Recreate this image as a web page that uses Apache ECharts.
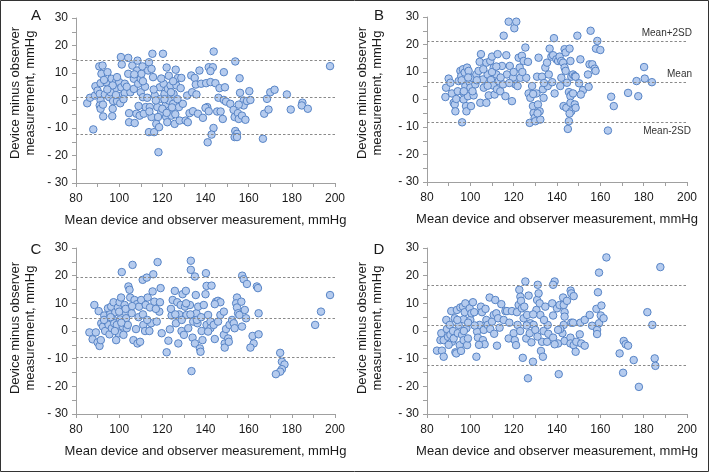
<!DOCTYPE html>
<html><head><meta charset="utf-8">
<script src="https://cdn.jsdelivr.net/npm/echarts@6/dist/echarts.min.js"></script>
<style>html,body{margin:0;padding:0;background:#fff}#c{width:709px;height:472px}</style>
</head><body><div id="c"></div>
<script>
const panelLetters = ['A', 'B', 'C', 'D'];
const xTitle = 'Mean device and observer measurement, mmHg';
const yTitle = 'Device minus observer\nmeasurement, mmHg';
const limitNames = ['Mean+2SD', 'Mean', 'Mean-2SD'];

// [upper (mean+2SD), mean, lower (mean-2SD)]
const limitsA = [14.8, 1.1, -12.4];
const limitsB = [21.1, 6.3, -8.4];
const limitsC = [19.3, 4.6, -9.6];
const limitsD = [16.6, 2.2, -12.3];

const pointsA = [[85.2,-1.0],[86.5,1.0],[88,-10.5],[89,5.2],[88.8,1.8],[90,3.6],[90.8,12.4],[92.3,12.7],[91.4,6.3],[91,2.4],[91.4,0],[91,-1.8],[91.4,-3],[91.8,9.7],[92.6,-5.8],[93.4,2.2],[94,6.7],[94.6,10.3],[95.4,1.2],[96.5,7.9],[96.8,-5.7],[97.2,-0.2],[98,4.2],[98.5,6.7],[99,-0.2],[100,6.7],[100.8,15.8],[101.2,13.1],[101,4.8],[101,1.8],[102.6,6.1],[102.6,2.7],[104.2,15.5],[104.2,9.7],[104.6,-4.6],[104.6,-7.9],[105.2,3.0],[106.1,12.7],[106.8,7.9],[106.8,4.2],[107.2,-8.2],[108,-4.8],[108.5,14.5],[108.3,10.9],[108.8,6.1],[109.5,-5.5],[110,7.9],[110,3],[110.3,9.7],[110.8,12.4],[111,1.2],[111.4,-4.8],[112.3,-2.4],[113,1],[113.4,10.9],[113.8,-11.5],[113.8,13.9],[114.2,-2.4],[115,-6],[115.4,17],[115.7,8.5],[116.2,-11.5],[116.5,1.8],[117.2,-8.5],[117.7,-2.4],[118.2,-18.8],[118.5,-9.7],[118.8,4.8],[119.2,0.6],[119.5,-4.2],[120.3,17],[120.6,6.1],[121,2.4],[121.5,-1.8],[121.8,-6],[122.3,-7.9],[122.6,4.2],[123,0],[123.4,-3.6],[123.8,5.5],[124.2,-5.5],[125,-1.2],[125.2,2.4],[125.7,-8.5],[126.2,11.2],[126.5,5.5],[127.2,8.2],[127.7,-2.4],[128,-7.3],[128.8,8.2],[129.5,-1.2],[130.8,-7.3],[131.5,1.8],[131.8,-7.9],[132.6,-4.6],[133.4,9.1],[133.8,3],[134.2,-3.9],[135,8.2],[135.5,5.8],[135.8,2.2],[136.5,-4.8],[137.2,10.9],[138,6.1],[138.8,-6.3],[140.3,6.3],[140.8,-2.4],[141,-15.2],[141.5,12.1],
[96,3],[97,5.5],[99,8.5],[98.5,2],[100.5,-1],[102,0.5],[103.5,5],[94.5,4],[93,7.5],[92.5,-1.5],[97,-3],[112,5],[114,-4],[116,4],[118,-6],[120,-3],[121,0.5],[122,-4.5],[124,3],[124.5,-2.5],[126,-5],[127,0.5],[128.5,4.5],[117,0],[119.5,8],[123,9],[125,7],[122,12],[115,11.5],[107,9.5],[109,-2],[111,7],
[143.8,17.8],[143.4,12.1],[142.3,10.7],[148.5,10.3],[153.8,14.2],[155.8,8.1],[142.3,6.7],[144.6,6.3],[146.5,4.5],[149,4.8],[146,1],[148.5,0.2],[149.5,-0.4],[151.5,-1.2],[140,-2.7],[141.5,-3.9],[145.4,-4],[147,-4],[148,-6.7],[153,-3.4],[153.5,-6],[155,-4.6],[155.4,-6.7],[156.9,-5.5],[158.5,-7],[156,2.8],[157.7,0],[157.7,-1.8],[155.4,-1.5],[159.2,-0.2],[160.3,3.4],[160.8,0.2],[143.7,-10],[142.8,-12.4],[153.8,-11.1],[154.6,-12.1],[153.5,-13.3],[154.6,-13.3],[166.6,-13.9],[167.2,-4.8],[169.2,-3.3],[168.5,0.6],[170,3],[172,3.9],[177.7,2.2],[179.5,-3.3],[184.9,-0.8],[184.6,-1.8],[187.4,-3],[197.7,12.5]];

const pointsB = [[88.5,0.9],[88.8,4.3],[90,7.6],[90.8,6.1],[91.5,2.2],[92.3,-1.2],[92.8,-1.8],[93.1,-4.3],[93.5,0.2],[94.2,3],[94.6,6.7],[95.4,10.4],[95.8,8.5],[96.2,-8.3],[96.6,11],[96.9,2.4],[96.9,0],[97.4,9.8],[97.7,4.9],[98,-2.4],[98.2,-4.3],[98.5,11.6],[98.9,1.2],[99.2,10.4],[99.7,6.3],[100,4.3],[100.3,-2.4],[100.8,7.9],[101.5,1.5],[102.3,5.5],[102.8,9.1],[103.8,10.4],[104.3,13.7],[104.6,-1.2],[104.9,16.5],[105.8,7.3],[106.2,4.3],[107.4,-1.2],[107.4,13.4],[108,9.1],[108.5,1.5],[109.2,14],[109.5,7.1],[110,15.6],[110.5,5.1],[110.8,11.6],[111.2,1.8],[112,9.1],[112.3,3.7],[112.6,16.5],[113.1,6.7],[113.8,3],[114.6,12.2],[115.1,5.5],[115.4,23.2],[116.2,1.2],[116.6,16.1],[116.9,9.1],[117.7,28.3],[118.2,12.2],[119.2,-0.6],[119.7,7.9],[120.3,25.9],[121.2,28.3],[120.8,5.5],[121.8,4.9],[122.3,15.2],[122.8,11.6],[123.1,7.9],[123.8,15.9],[124.6,14],[125.4,18.9],[125.8,7.9],[126.6,13.7],[126.9,2.2],[127.4,-8.5],[127.7,0.6],[128.5,4.9],[128.9,-2.4],[129.2,-4.9],[129.7,-6.7],[130,-7.9],[130.5,2.2],[130.8,8.3],[131.2,-1.8],[131.5,15.2],[132,-4.3],[132.3,-7.3],[133.1,8.3],[133.5,3.7],[133.8,0.6],[134.6,11.6],[135.4,13.4],[135.7,4.9],[136.2,9.1],[136.6,18.5],
[96,7],[97,3],[99,8],[101,3],[103,7],[106,11],[108,5],[110,10],[112,12],[114,8],[118,6],[120,10],[124,10],[129,2],[131,-5],[134,6],
[138.6,22.3],[137.4,15.6],[138.2,16.1],[139.7,14.6],[140.5,14],[141.2,15.6],[142,14],[142.8,13.4],[143.5,18.3],[144,17.1],[145.8,18.5],[146.2,14],[143.5,11.6],[144,10.4],[138.9,2.2],[137.8,6.3],[141.5,4.9],[142,7.9],[144.6,6.1],[146.6,8.3],[147.4,9.1],[148.2,8.5],[148.6,8.3],[150.2,5.9],[150.8,14.6],[149.4,23.2],[152,3.4],[151,1.8],[154.3,9.1],[155,12.8],[156.3,12.8],[154.6,4.6],[157.4,11.2],[157.8,10.4],[155.5,25],[158.6,21.3],[158,18.5],[160,18],[145.5,2.7],[146.6,1.8],[146.2,1.2],[147.4,2.2],[143,-2.4],[144.3,-3],[146.2,-1.2],[148.2,-1.8],[146.6,-4.3],[145.8,-5.1],[148.6,-3],[145.5,-7.9],[145,-10.7],[163.5,-11.3],[165,1],[166.2,-2.4],[172.8,2.4],[177.5,1.2],[176.7,6.7],[180.2,11.8],[180.5,7.6],[183.8,6.3]];

const pointsC = [[86.2,-0.5],[87.7,-3],[88.5,9.4],[89.2,-0.5],[90,-4.1],[90.5,7.2],[90.9,-5.4],[91.5,-3.3],[91.7,2.8],[92.5,1.6],[93.1,5.6],[93.5,0],[94.3,3.4],[94.8,8.2],[95.1,2.2],[95.5,-1.2],[95.8,6],[96.3,8.8],[96.6,1],[97.1,4.2],[97.4,10.4],[97.7,2.8],[98.2,6.8],[98.6,-3.3],[98.9,2.2],[99.4,8.5],[99.7,-0.8],[100.2,10.4],[100.5,4.2],[100.9,12.1],[101.2,21.3],[101.7,1.6],[102,-1.4],[102.5,9.4],[102.8,6.8],[103.2,4.6],[103.5,1],[104,2.2],[104.3,16.1],[104.8,14.9],[105.1,12.1],[105.8,6.4],[106.2,23.9],[106.6,-3.3],[107.1,11.2],[107.8,0.7],[108.2,9.7],[108.5,-4.5],[109.2,8.8],[109.7,-3.9],[110.2,11.2],[110.9,18.5],[111.2,2.2],[112,0],[112.3,9.4],[112.8,19.3],[113.2,12.1],[114,0],[114.3,8.5],[114.8,2.8],[115.5,14.3],[115.8,20.5],[116.3,10.6],[117.4,3.4],[117.8,24.9],[118.6,7],[118.9,10.4],[119.2,15.5],[119.7,-0.8],[122,-7.7],[122.8,-3.5],[123.5,0.6],[124.3,5.6],[124.8,11.2],[125.8,14.5],[126.3,2.8],[126.9,10.4],[127.4,-4.5],[127.8,6],[128.5,9.4],[128.9,0],[129.4,13.3],[130,-1.4],[130.5,8.8],[130.9,14.5],[131.2,5.8],[132,1],[132.8,9.4],[133.2,25.4],[133.2,22.1],[133.5,-14.5],[134,-2.4],[134.3,3.4],[135.1,19.7],[135.1,-4.5],[135.5,13],[135.8,6.4],[136.3,2.8],[136.6,8.8],[137.4,-6.3],[137.7,-7.5],[138.2,0],[138.6,-3.3],[139.2,9.4],[140.2,20.9],[140.5,16.3],[140.5,2.2],
[93,4],[96,5],[98,0],[100,7],[101,3],[103,8],[106,9],[109,5],[111,6],[113,4],[117,8],[124,8],[126,6],[129,4],[131,10],[133,6],[136,4],[138,5],
[142.8,16.4],[140,13.3],[141.2,5.8],[142.3,3.4],[142.3,1],[143.8,2.2],[141.2,-0.2],[144.3,-2.9],[144.9,10.6],[145.8,10.9],[146.9,10.4],[144.3,9.7],[145.8,3.4],[146.9,5.8],[148.5,7],[148.5,-1.4],[149.5,0.7],[148.9,-4.5],[148.9,-6],[150.5,-2.7],[150.8,-3.9],[151.1,2.2],[152.3,4],[153.1,2.8],[153.5,1],[154.6,12.1],[154.2,10],[154.6,8.5],[155.1,6.4],[155.7,5.8],[156.6,10.6],[157,20],[157.7,18.7],[158.2,7.6],[158.8,4.6],[156.9,1.6],[159.2,17],[163.8,16.1],[164.3,15.5],[164.6,6.4],[161.8,-1.8],[164.6,-1.2],[162.3,-4.5],[160.8,-6],[174.6,-7.9],[175.4,-11.1],[176.6,-12.1],[175.4,-13.8],[174.6,-14.7],[172.6,-15.6],[190.8,2.2],[193.5,7],[197.7,13]];

const pointsD = [[84.6,-7.1],[86.9,-7.1],[87.7,-9.3],[86.2,-3.3],[86.6,-0.8],[87.7,-3.3],[88.9,4],[89.2,0.7],[89.7,-2.1],[90.5,2.2],[90.8,-1.4],[91.2,7.2],[91.5,-3.9],[92,0],[92.3,-2.7],[92.8,4.6],[93.1,-7.7],[93.5,-8.1],[93.8,7.6],[94.2,-0.8],[94.6,2.2],[95.1,-5.1],[95.4,8.5],[95.7,-7.2],[96.2,-1.4],[96.6,8.8],[96.9,4.2],[96.9,-3.3],[97.4,6.8],[97.7,10],[98.2,1],[98.5,-5.1],[98.9,-2.7],[99.7,8.2],[100,4],[100.5,6.4],[101.2,10.4],[101.8,6.8],[102.8,-9.3],[103.1,-0.2],[103.5,-2.4],[104.3,2.2],[104.9,8.8],[105.4,6.8],[105.8,-3.3],[106.2,0.4],[106.6,-4.8],[107.4,4],[108,2.2],[108.9,12.1],[109.2,0.7],[110,3.4],[110.8,5.8],[111.5,11.2],[112,6.4],[112.3,-5.3],[112.8,4.6],[113.5,1.2],[114.3,9.7],[115.4,4],[116.2,7.2],[116.9,7.2],[117.7,-2.7],[119.2,7.2],[120,-0.8],[120.5,-3.3],[121.1,-5.1],[121.5,6.8],[121.8,2.2],[122.3,9.4],[122.6,14.9],[123.1,12.4],[123.4,10.9],[123.8,8.2],[124.2,-9.7],[124.6,4.6],[124.9,8.8],[125.4,17.9],[125.8,-2.7],[126.2,5.8],[126.6,-17.1],[126.9,12.8],[127.4,-0.8],[127.7,2.8],[128.2,-4.1],[128.9,-11.1],[129.2,2.2],[130,0.4],[130.5,7.6],[130.8,11.2],[131.1,16.7],[131.5,13.6],[132,10],[132.3,5.8],[132.6,-7.2],[133.1,-3.9],[133.5,-9.3],[133.8,0],[134.6,8.8],[135.4,-3.9],[135.7,2.2],
[90,-5],[94,4],[97,0],[99,3],[102,2],[104,-5],[107,8],[111,-1],[118,3],[123,0],[126,2],[129,6],[131,-2],[134,4],[136,-1],
[138.9,17.9],[138.2,16.7],[137.8,10],[140,8.2],[141.2,9.4],[142.8,12.1],[143.1,9.4],[143.5,6.8],[143.5,5.2],[144.6,10.9],[146.3,14.6],[146.6,13.6],[147.7,12.6],[138.2,5.6],[143.1,2.2],[142.5,-0.8],[141.5,0.7],[140.5,0.4],[138.2,-2.4],[140.5,-4.5],[138.9,-4.8],[143.5,-3.6],[146.2,-2.4],[146.6,3],[147.4,3],[146.2,-4.5],[147.7,-5.1],[148.6,-7.5],[148.9,-3.9],[150.5,-1.2],[150.8,3],[151.2,-4.5],[152.8,-5.3],[152.8,4],[155.1,5.8],[156.2,1.9],[158.2,8],[158.5,0.4],[158.5,-1.1],[159.4,2.8],[160.2,5.6],[160.5,9.2],[161.5,4.6],[158.9,14],[159.4,21.1],[162.8,26.6],[140.8,-15.6],[168.9,-8.1],[170.5,-15.1],[170.8,-3.6],[171.7,-4.8],[172.8,-5.3],[175.4,-10.5],[177.8,-20.2],[181.7,6.8],[184,2.2],[185.1,-9.9],[185.4,-12.6],[187.7,23.1]];

const panels = [
  {points: pointsA, limits: limitsA, grid: {left: 76, top: 18, width: 259, height: 165}, showNames: false},
  {points: pointsB, limits: limitsB, grid: {left: 427, top: 17, width: 260, height: 165}, showNames: true},
  {points: pointsC, limits: limitsC, grid: {left: 76, top: 248, width: 259, height: 166}, showNames: false},
  {points: pointsD, limits: limitsD, grid: {left: 427, top: 248, width: 260, height: 166}, showNames: false}
];

const FONT = 'Liberation Sans, Arial, sans-serif';
const TXT = '#1a1a1a';
const AX = '#a0a0a0';

const grids = [], xAxes = [], yAxes = [], series = [], graphics = [];
panels.forEach((p, i) => {
  grids.push(p.grid);
  xAxes.push({
    gridIndex: i, type: 'value', min: 80, max: 200, interval: 20,
    axisLine: {show: true, onZero: false, lineStyle: {color: AX}},
    axisTick: {show: true, length: 4, lineStyle: {color: AX}},
    minorTick: {show: true, splitNumber: 2, length: 4, lineStyle: {color: AX}},
    splitLine: {show: false},
    axisLabel: {color: TXT, fontSize: 12, margin: 10, fontFamily: FONT},
    name: xTitle, nameLocation: 'middle', nameGap: 31,
    nameTextStyle: {color: TXT, fontSize: 13, fontFamily: FONT}
  });
  yAxes.push({
    gridIndex: i, type: 'value', min: -30, max: 30, interval: 10,
    axisLine: {show: true, onZero: false, lineStyle: {color: AX}},
    axisTick: {show: true, length: 4, lineStyle: {color: AX}},
    minorTick: {show: true, splitNumber: 2, length: 4, lineStyle: {color: AX}},
    splitLine: {show: false},
    axisLabel: {color: TXT, fontSize: 12, margin: 8, fontFamily: FONT,
      formatter: v => v < 0 ? '- ' + Math.abs(v) : String(v)}
  });
  const mlData = p.limits.map((v, k) => {
    const item = {yAxis: v};
    if (p.showNames) {
      item.label = {show: true, formatter: limitNames[k],
        position: k === 2 ? 'insideEndBottom' : 'insideEndTop',
        distance: k === 2 ? 4 : 3, offset: [8, 0],
        color: '#333', fontSize: 10, fontFamily: FONT};
    } else {
      item.label = {show: false};
    }
    return item;
  });
  series.push({
    type: 'scatter', xAxisIndex: i, yAxisIndex: i,
    data: p.points, symbol: 'circle', symbolSize: 7.5,
    itemStyle: {color: '#b5cbee', borderColor: '#5784c6', borderWidth: 1, opacity: 1},
    silent: true, z: 3,
    markLine: {
      silent: true, symbol: ['none', 'none'], animation: false,
      lineStyle: {type: [2.5, 2], color: '#8a8a8a', width: 1},
      data: mlData
    }
  });
  const col = i % 2, row = Math.floor(i / 2);
  graphics.push({
    type: 'text', x: col ? 379 : 36, y: row ? 249.5 : 15.5,
    style: {text: panelLetters[i], fill: TXT, font: '15px ' + FONT, textAlign: 'center', textVerticalAlign: 'middle'}
  });
  graphics.push({
    type: 'text', x: col ? 369.5 : 22.5, y: row ? 328 : 93, rotation: Math.PI / 2,
    style: {text: yTitle, fill: TXT, font: '13px ' + FONT, textAlign: 'center', textVerticalAlign: 'middle', lineHeight: 15}
  });
});
graphics.push({type: 'rect', shape: {x: 0.5, y: 0.5, width: 708, height: 471},
  style: {fill: 'none', stroke: '#333', lineWidth: 1}, z: 10});

const chart = echarts.init(document.getElementById('c'), null, {renderer: 'canvas'});
chart.setOption({
  animation: false,
  backgroundColor: '#fff',
  grid: grids, xAxis: xAxes, yAxis: yAxes, series: series, graphic: graphics
});
</script></body></html>
